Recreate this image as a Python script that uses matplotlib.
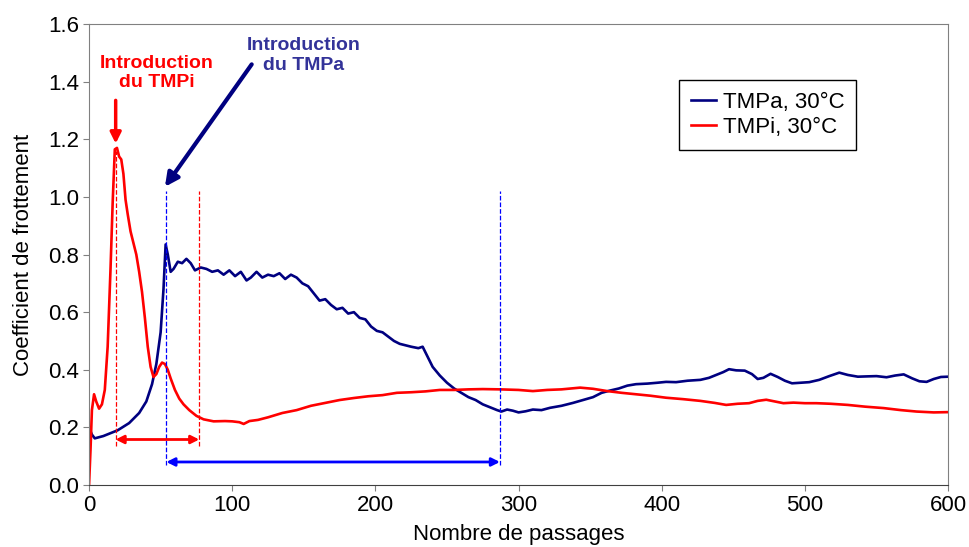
import matplotlib
matplotlib.use('Agg')

import matplotlib.pyplot as plt

plt.rcParams['font.family'] = ['Liberation Sans', 'DejaVu Sans']

# Courbe TMPa, 30°C
tmpa_x = [0, 2, 4, 10, 20, 28, 35, 40, 44, 47, 50, 52, 53.5, 55, 57, 59, 62, 65, 68, 71,
          74, 78, 82, 86, 90, 94, 98, 102, 106, 110, 113, 117, 121, 125, 129, 133, 137,
          141, 145, 149, 153, 157, 161, 165, 169, 173, 177, 181, 185, 189, 193, 197, 201,
          205, 209, 213, 217, 221, 225, 230, 233, 236, 240, 245, 250, 255, 260, 265, 270,
          275, 280, 285, 288, 292, 296, 300, 305, 310, 316, 322, 330, 338, 345, 352, 358,
          364, 370, 376, 382, 390, 397, 403, 410, 418, 427, 433, 438, 443, 447, 452, 458,
          463, 467, 471, 476, 481, 486, 491, 497, 503, 510, 517, 524, 530, 537, 543, 550,
          557, 563, 569, 575, 580, 585, 590, 595, 600]
tmpa_y = [0.20, 0.175, 0.162, 0.17, 0.19, 0.215, 0.25, 0.29, 0.35, 0.42, 0.53, 0.68, 0.835,
          0.80, 0.74, 0.75, 0.775, 0.77, 0.785, 0.77, 0.745, 0.755, 0.75, 0.74, 0.745, 0.73,
          0.745, 0.725, 0.74, 0.71, 0.72, 0.74, 0.72, 0.73, 0.725, 0.735, 0.715, 0.73, 0.72,
          0.70, 0.69, 0.665, 0.64, 0.645, 0.625, 0.61, 0.615, 0.595, 0.60, 0.58, 0.575, 0.55,
          0.535, 0.53, 0.515, 0.50, 0.49, 0.485, 0.48, 0.475, 0.48, 0.45, 0.41, 0.38, 0.355,
          0.335, 0.32, 0.305, 0.295, 0.28, 0.27, 0.26, 0.255, 0.262, 0.258, 0.252, 0.256,
          0.262, 0.26, 0.268, 0.275, 0.285, 0.295, 0.305, 0.32, 0.328, 0.335, 0.345, 0.35,
          0.352, 0.355, 0.358, 0.357, 0.362, 0.365, 0.372, 0.382, 0.392, 0.402, 0.398, 0.397,
          0.385, 0.368, 0.372, 0.386, 0.375, 0.362, 0.353, 0.355, 0.357, 0.365, 0.378, 0.39,
          0.382, 0.376, 0.377, 0.378, 0.374, 0.38, 0.384, 0.37, 0.36, 0.358, 0.368, 0.375,
          0.376]

# Courbe TMPi, 30°C
tmpi_x = [0, 1, 2, 3.5, 5, 7, 9, 11, 13, 15, 16.5, 18, 19.5, 21, 22.5, 24, 25.5, 27, 29, 31,
          33, 35, 37, 39, 41, 43, 45, 47, 49, 51, 53, 55, 57, 60, 63, 66, 70, 75, 80, 87, 95,
          100, 105, 108, 112, 118, 125, 135, 145, 155, 165, 175, 185, 195, 205, 215, 225,
          235, 245, 255, 265, 275, 287, 300, 310, 320, 330, 343, 352, 362, 372, 382, 392,
          403, 415, 427, 437, 445, 453, 461, 467, 473, 479, 485, 492, 500, 508, 518, 530,
          542, 555, 567, 578, 590, 600]
tmpi_y = [0.0, 0.12, 0.26, 0.315, 0.29, 0.265, 0.28, 0.33, 0.48, 0.75, 0.98, 1.165, 1.17,
          1.14, 1.13, 1.08, 0.99, 0.94, 0.88, 0.84, 0.80, 0.74, 0.67, 0.58, 0.48, 0.41, 0.375,
          0.385, 0.41, 0.425, 0.42, 0.40, 0.37, 0.33, 0.30, 0.28, 0.26, 0.24, 0.228, 0.221,
          0.222, 0.221, 0.218, 0.212, 0.222, 0.226, 0.235, 0.25, 0.26, 0.275, 0.285, 0.295,
          0.302, 0.308, 0.312, 0.32, 0.322, 0.325, 0.33, 0.33, 0.332, 0.333, 0.332, 0.33,
          0.326, 0.33, 0.332, 0.338, 0.334, 0.326, 0.32, 0.315, 0.31, 0.303, 0.298, 0.292,
          0.285, 0.278, 0.282, 0.284, 0.292, 0.296, 0.29, 0.284, 0.286, 0.284, 0.284, 0.282,
          0.278, 0.272, 0.267, 0.26, 0.255, 0.252, 0.253]

# Repères (début / fin des transitoires)
tmpi_marks = [18.5, 77]
tmpa_marks = [54, 287]

fig = plt.figure(figsize=(9.7, 5.47), dpi=100)
ax = fig.add_axes([0.0918, 0.1133, 0.8856, 0.8428])

ax.plot(tmpa_x, tmpa_y, color='#000080', linewidth=1.9, label='TMPa, 30°C')
ax.plot(tmpi_x, tmpi_y, color='#FF0000', linewidth=1.9, label='TMPi, 30°C')

# Lignes verticales pointillées
ax.plot([tmpi_marks[0]] * 2, [0.135, 1.16], color='#FF0000', linestyle='--', linewidth=0.9)
ax.plot([tmpi_marks[1]] * 2, [0.135, 1.02], color='#FF0000', linestyle='--', linewidth=0.9)
ax.plot([tmpa_marks[0]] * 2, [0.07, 1.02], color='#0000FF', linestyle='--', linewidth=0.9)
ax.plot([tmpa_marks[1]] * 2, [0.07, 1.02], color='#0000FF', linestyle='--', linewidth=0.9)

# Flèches doubles
ax.annotate('', xy=(tmpi_marks[0], 0.158), xytext=(tmpi_marks[1], 0.158),
            arrowprops=dict(arrowstyle='<|-|>', color='#FF0000', lw=2,
                            mutation_scale=12, shrinkA=0, shrinkB=0))
ax.annotate('', xy=(tmpa_marks[0], 0.08), xytext=(tmpa_marks[1], 0.08),
            arrowprops=dict(arrowstyle='<|-|>', color='#0000FF', lw=2,
                            mutation_scale=12, shrinkA=0, shrinkB=0))

# Annotations d'introduction
ax.text(47, 1.43, 'Introduction\ndu TMPi', color='#FF0000', fontsize=14,
        fontweight='bold', ha='center', va='center', linespacing=1.2)
ax.annotate('', xy=(18.6, 1.185), xytext=(18.6, 1.335),
            arrowprops=dict(arrowstyle='-|>', color='#FF0000', lw=2.5,
                            mutation_scale=16, shrinkA=0, shrinkB=0))
ax.text(150, 1.49, 'Introduction\ndu TMPa', color='#333399', fontsize=14,
        fontweight='bold', ha='center', va='center', linespacing=1.2)
ax.annotate('', xy=(53, 1.035), xytext=(113.6, 1.46),
            arrowprops=dict(arrowstyle='-|>', color='#000080', lw=3,
                            mutation_scale=20, shrinkA=0, shrinkB=0))

ax.set_xlim(0, 600)
ax.set_ylim(0, 1.6)
ax.set_xticks([0, 100, 200, 300, 400, 500, 600])
ax.set_yticks([0.0, 0.2, 0.4, 0.6, 0.8, 1.0, 1.2, 1.4, 1.6])
ax.yaxis.set_major_formatter(plt.FuncFormatter(lambda v, p: f'{v:.1f}'))
ax.tick_params(labelsize=16, direction='out', length=4, color='#808080', pad=3)

ax.set_xlabel('Nombre de passages', fontsize=16, labelpad=6)
ax.set_ylabel('Coefficient de frottement', fontsize=16, labelpad=10)

for side in ['left', 'top', 'right']:
    ax.spines[side].set_color('#808080')
ax.spines['bottom'].set_color('#404040')

leg = ax.legend(loc='upper left', bbox_to_anchor=(0.687, 0.8785), fontsize=16,
                frameon=True, fancybox=False, edgecolor='black', framealpha=1,
                handlelength=1.1, handletextpad=0.3, borderpad=0.55, labelspacing=0.15,
                borderaxespad=0)
leg.get_frame().set_linewidth(1.0)

fig.savefig('out.png', dpi=100)
plt.close(fig)
